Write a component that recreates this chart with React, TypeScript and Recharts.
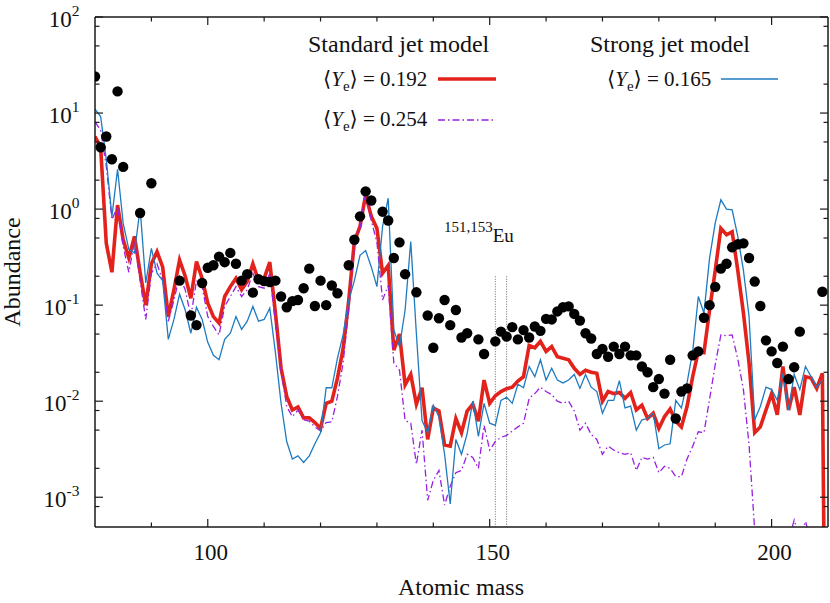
import React from 'react';
import { ComposedChart, Line, Scatter, XAxis, YAxis, ReferenceLine } from 'recharts';

// Atomic mass numbers (80 .. 210)
const massStart = 80;

// Standard jet model <Ye> = 0.192 (A = 80 ... 210)
const standardYe0192 = [
  5.7, 4.4, 0.44, 0.22, 1.1, 0.48, 0.31, 0.52, 0.22, 0.10,
  0.27, 0.36, 0.25, 0.076, 0.145, 0.295, 0.20, 0.118, 0.285, 0.19,
  0.105, 0.076, 0.065, 0.123, 0.156, 0.19, 0.145, 0.176, 0.27, 0.18,
  0.19, 0.28, 0.083, 0.022, 0.0112, 0.0081, 0.0087, 0.0067, 0.0067, 0.006,
  0.0052, 0.0095, 0.010, 0.0174, 0.035, 0.112, 0.46, 0.66, 1.41, 0.84,
  0.63, 0.215, 0.26, 0.034, 0.05, 0.0148, 0.019, 0.0093, 0.0138, 0.004,
  0.0085, 0.0079, 0.0035, 0.0034, 0.0066, 0.0047, 0.0079, 0.0093, 0.0062, 0.0166,
  0.0095, 0.0114, 0.0126, 0.0135, 0.014, 0.0162, 0.018, 0.038, 0.036, 0.042,
  0.033, 0.037, 0.029, 0.028, 0.027, 0.022, 0.019, 0.021, 0.02, 0.0195,
  0.010, 0.0126, 0.012, 0.0123, 0.0107, 0.0123, 0.0081, 0.0091, 0.0066, 0.0075,
  0.0052, 0.0069, 0.0083, 0.0062, 0.0054, 0.0088, 0.018, 0.033, 0.032, 0.089,
  0.23, 0.63, 0.54, 0.58, 0.23, 0.083, 0.025, 0.0047, 0.0054, 0.0081,
  0.012, 0.0072, 0.023, 0.0081, 0.014, 0.0072, 0.018, 0.0174, 0.0136, 0.0195,
  1e-8,
];

// Standard jet model <Ye> = 0.254 (A = 80 ... 209)
const standardYe0254 = [
  8.1, 6.6, 2.8, 0.78, 1.06, 0.41, 0.22, 0.46, 0.18, 0.071,
  0.215, 0.27, 0.18, 0.068, 0.113, 0.20, 0.145, 0.076, 0.18, 0.156,
  0.076, 0.06, 0.049, 0.097, 0.123, 0.156, 0.123, 0.145, 0.215, 0.156,
  0.15, 0.215, 0.065, 0.021, 0.0088, 0.0069, 0.0081, 0.0064, 0.0062, 0.0054,
  0.0049, 0.006, 0.0061, 0.0112, 0.025, 0.089, 0.43, 0.63, 1.48, 0.76,
  0.45, 0.113, 0.16, 0.025, 0.021, 0.0063, 0.0059, 0.0022, 0.005, 0.00093,
  0.0015, 0.0019, 0.00083, 0.0013, 0.0018, 0.0019, 0.0028, 0.0026, 0.002, 0.0056,
  0.0031, 0.0038, 0.0042, 0.0044, 0.0049, 0.0054, 0.0059, 0.0107, 0.012, 0.014,
  0.0126, 0.0117, 0.01, 0.0095, 0.01, 0.0079, 0.005, 0.0059, 0.0045, 0.004,
  0.0028, 0.0034, 0.0031, 0.0029, 0.0028, 0.0029, 0.0019, 0.0026, 0.0025, 0.0026,
  0.0018, 0.0021, 0.002, 0.00164, 0.00164, 0.0025, 0.0034, 0.0048, 0.0047, 0.0105,
  0.024, 0.049, 0.048, 0.049, 0.0275, 0.0132, 0.0035, 0.00045, 0.0002, 0.00016,
  0.0002, 0.00032, 0.00035, 0.00035, 0.00058, 0.00038, 0.00056, 0.00035, 0.00025, 0.0002,
];

// Strong jet model <Ye> = 0.165 (A = 80 ... 209)
const strongYe0165 = [
  11, 9.2, 3.3, 0.84, 2.6, 0.71, 0.38, 0.35, 1.02, 0.17,
  0.39, 0.215, 0.18, 0.044, 0.071, 0.13, 0.089, 0.051, 0.095, 0.071,
  0.041, 0.03, 0.027, 0.044, 0.051, 0.076, 0.056, 0.068, 0.097, 0.068,
  0.071, 0.093, 0.032, 0.0095, 0.0038, 0.0025, 0.0027, 0.0023, 0.0027, 0.0036,
  0.0047, 0.0138, 0.0138, 0.028, 0.049, 0.112, 0.18, 0.33, 0.37, 0.25,
  0.156, 0.66, 1.3, 0.055, 0.037, 0.089, 0.46, 0.05, 0.0063, 0.0047,
  0.0091, 0.0069, 0.0028, 0.00085, 0.004, 0.0028, 0.0046, 0.01, 0.0043, 0.0095,
  0.0059, 0.0056, 0.0102, 0.011, 0.0095, 0.015, 0.0138, 0.023, 0.018, 0.027,
  0.0166, 0.022, 0.0166, 0.0155, 0.0166, 0.019, 0.0136, 0.019, 0.014, 0.0126,
  0.0075, 0.0102, 0.0102, 0.0164, 0.0085, 0.0089, 0.005, 0.0064, 0.0066, 0.0075,
  0.0032, 0.0035, 0.0036, 0.0102, 0.0085, 0.0155, 0.033, 0.123, 0.083, 0.31,
  0.72, 1.25, 1.0, 0.98, 0.52, 0.23, 0.076, 0.0064, 0.0088, 0.014,
  0.0132, 0.0102, 0.0195, 0.0081, 0.019, 0.0132, 0.023, 0.018, 0.014, 0.0166,
];

// Solar r-process abundances [A, abundance]
const solarR: [number, number][] = [
  [80, 24], [81, 4.4], [82, 5.7], [83, 3.3], [84, 16.8], [85, 2.75], [88, 0.91], [90, 1.86],
  [95, 0.18], [97, 0.078], [98, 0.062], [99, 0.17], [100, 0.245], [101, 0.26], [102, 0.32],
  [103, 0.28], [104, 0.35], [105, 0.27], [106, 0.18], [107, 0.21], [108, 0.135], [109, 0.186],
  [110, 0.178], [111, 0.174], [112, 0.18], [113, 0.123], [114, 0.095], [115, 0.11], [116, 0.113],
  [117, 0.15], [118, 0.24], [119, 0.098], [120, 0.18], [121, 0.10], [122, 0.16], [123, 0.133],
  [125, 0.26], [126, 0.48], [127, 0.84], [128, 1.53], [129, 1.23], [131, 0.94], [132, 0.76],
  [133, 0.31], [134, 0.45], [135, 0.21], [137, 0.136], [139, 0.078], [140, 0.036], [141, 0.073],
  [142, 0.113], [143, 0.062], [144, 0.089], [145, 0.046], [146, 0.051], [148, 0.044], [149, 0.031],
  [151, 0.042], [152, 0.053], [153, 0.047], [154, 0.059], [155, 0.044], [156, 0.055], [157, 0.046],
  [158, 0.06], [159, 0.054], [160, 0.072], [161, 0.071], [162, 0.086], [163, 0.095], [164, 0.097],
  [165, 0.081], [166, 0.069], [167, 0.051], [168, 0.045], [169, 0.031], [170, 0.035], [171, 0.029],
  [172, 0.037], [173, 0.031], [174, 0.037], [175, 0.030], [176, 0.030], [177, 0.023], [178, 0.020],
  [179, 0.014], [180, 0.017], [181, 0.012], [182, 0.027], [183, 0.0066], [184, 0.0126], [185, 0.0136],
  [186, 0.030], [187, 0.033], [188, 0.074], [189, 0.10], [190, 0.155], [191, 0.24], [192, 0.27],
  [193, 0.40], [194, 0.43], [195, 0.44], [196, 0.31], [197, 0.176], [198, 0.098], [199, 0.043],
  [200, 0.033], [201, 0.025], [202, 0.037], [203, 0.017], [204, 0.0226], [205, 0.053], [209, 0.138],
];

const xTicks = [90, 100, 110, 120, 130, 140, 150, 160, 170, 180, 190, 200];
const xMajor = [100, 150, 200];
const yTicks = [
  8e-4, 1e-3, 2e-3, 5e-3, 8e-3, 1e-2, 2e-2, 5e-2, 8e-2, 0.1, 0.2, 0.5, 0.8,
  1, 2, 5, 8, 10, 20, 50, 80, 100,
];
const euMasses = [151, 153];

const yMin = 4.9e-4;
const yMax = 100;
const serif = "'Liberation Serif', 'DejaVu Serif', 'Times New Roman', serif";
const axisColor = '#1a1a1a';
const RED = '#e3221b';
const PURPLE = '#9a1fe0';
const BLUE = '#1f7bc0';

const toSeries = (vals: number[]) => vals.map((v, i) => ({ A: massStart + i, v }));
const redData = toSeries(standardYe0192);
const purpleData = toSeries(standardYe0254);
const blueData = toSeries(strongYe0165);
const solarData = solarR.map(([A, v]) => ({ A, v }));

const isMajorY = (v: number) => Math.abs(Math.log10(v) - Math.round(Math.log10(v))) < 1e-6;

const LeftTick = (props: any) => {
  const { x, y, payload } = props;
  const v = payload.value;
  const major = isMajorY(v);
  return (
    <g>
      <line x1={x} x2={x + (major ? 8 : 4.5)} y1={y} y2={y} stroke={axisColor} strokeWidth={1.2} />
      {major && (
        <text x={x - 15.5} y={y + 10} textAnchor="end" fontFamily={serif} fontSize={23} fill="#111">
          10<tspan dy={-11} fontSize={15.5}>{String(Math.round(Math.log10(v)))}</tspan>
        </text>
      )}
    </g>
  );
};

const RightTick = (props: any) => {
  const { x, y, payload } = props;
  const major = isMajorY(payload.value);
  return <line x1={x - (major ? 8 : 4.5)} x2={x} y1={y} y2={y} stroke={axisColor} strokeWidth={1.2} />;
};

const BottomTick = (props: any) => {
  const { x, y, payload } = props;
  const major = xMajor.includes(payload.value);
  return (
    <g>
      <line x1={x} x2={x} y1={y - (major ? 8 : 4.5)} y2={y} stroke={axisColor} strokeWidth={1.2} />
      {major && (
        <text x={x + 3} y={y + 33} textAnchor="middle" fontFamily={serif} fontSize={23} fill="#111">
          {payload.value}
        </text>
      )}
    </g>
  );
};

const TopTick = (props: any) => {
  const { x, y, payload } = props;
  const major = xMajor.includes(payload.value);
  return <line x1={x} x2={x} y1={y} y2={y + (major ? 8 : 4.5)} stroke={axisColor} strokeWidth={1.2} />;
};

const DotShape = (props: any) => {
  const { cx, cy } = props;
  if (cx == null || cy == null) return null;
  return <circle cx={cx} cy={cy} r={5.2} fill="#000" />;
};

const YeLabel = ({ x, y, value }: { x: number; y: number; value: string }) => (
  <text x={x} y={y} fontFamily={serif} fontSize={21} fill="#111">
    ⟨<tspan fontStyle="italic">Y</tspan>
    <tspan dy={5} fontSize={15}>e</tspan>
    <tspan dy={-5}>⟩ = {value}</tspan>
  </text>
);

export default function App() {
  const axisLine = { stroke: axisColor, strokeWidth: 1.5 };
  return (
    <div style={{ position: 'absolute', left: 0, top: 0, width: 830, height: 603, background: '#fff' }}>
      <ComposedChart width={830} height={603} margin={{ top: 0, right: 0, bottom: 0, left: 0 }}>
        <XAxis
          xAxisId="b"
          type="number"
          dataKey="A"
          domain={[80, 210]}
          ticks={xTicks}
          interval={0}
          allowDataOverflow
          height={76}
          tickSize={0}
          tickMargin={0}
          tickLine={false}
          axisLine={axisLine}
          tick={BottomTick}
        />
        <XAxis
          xAxisId="t"
          orientation="top"
          type="number"
          dataKey="A"
          domain={[80, 210]}
          ticks={xTicks}
          interval={0}
          allowDataOverflow
          height={17}
          tickSize={0}
          tickMargin={0}
          tickLine={false}
          axisLine={axisLine}
          tick={TopTick}
        />
        <YAxis
          yAxisId="l"
          type="number"
          scale="log"
          dataKey="v"
          domain={[yMin, yMax]}
          ticks={yTicks}
          interval={0}
          allowDataOverflow
          width={95}
          tickSize={0}
          tickMargin={0}
          tickLine={false}
          axisLine={axisLine}
          tick={LeftTick}
        />
        <YAxis
          yAxisId="r"
          orientation="right"
          type="number"
          scale="log"
          dataKey="v"
          domain={[yMin, yMax]}
          ticks={yTicks}
          interval={0}
          allowDataOverflow
          width={2}
          tickSize={0}
          tickMargin={0}
          tickLine={false}
          axisLine={axisLine}
          tick={RightTick}
        />
        {euMasses.map((m) => (
          <ReferenceLine
            key={m}
            xAxisId="b"
            yAxisId="l"
            segment={[{ x: m, y: 0.2 }, { x: m, y: yMin }]}
            stroke="#444"
            strokeWidth={0.8}
            strokeDasharray="1 1.5"
          />
        ))}
        <Line
          xAxisId="b"
          yAxisId="l"
          data={redData}
          dataKey="v"
          type="linear"
          stroke={RED}
          strokeWidth={3.6}
          dot={false}
          isAnimationActive={false}
        />
        <Line
          xAxisId="b"
          yAxisId="l"
          data={purpleData}
          dataKey="v"
          type="linear"
          stroke={PURPLE}
          strokeWidth={1.3}
          strokeDasharray="7 3 1.5 3"
          dot={false}
          isAnimationActive={false}
        />
        <Line
          xAxisId="b"
          yAxisId="l"
          data={blueData}
          dataKey="v"
          type="linear"
          stroke={BLUE}
          strokeWidth={1.3}
          dot={false}
          isAnimationActive={false}
        />
        <Scatter
          xAxisId="b"
          yAxisId="l"
          data={solarData}
          dataKey="v"
          fill="#000"
          shape={DotShape}
          isAnimationActive={false}
        />
      </ComposedChart>
      <svg
        width={830}
        height={603}
        style={{ position: 'absolute', left: 0, top: 0, pointerEvents: 'none' }}
      >
        <text x={308} y={52} fontFamily={serif} fontSize={24} fill="#111">Standard jet model</text>
        <YeLabel x={323} y={86} value="0.192" />
        <line x1={438} x2={496} y1={79} y2={79} stroke={RED} strokeWidth={3.5} />
        <YeLabel x={323} y={126} value="0.254" />
        <line x1={438} x2={494} y1={120} y2={120} stroke={PURPLE} strokeWidth={1.3} strokeDasharray="7 3 1.5 3" />
        <text x={590} y={52} fontFamily={serif} fontSize={24} fill="#111">Strong jet model</text>
        <YeLabel x={607} y={86} value="0.165" />
        <line x1={721} x2={778} y1={79} y2={79} stroke={BLUE} strokeWidth={1.3} />
        <text x={444} y={232} fontFamily={serif} fontSize={15} fill="#111">
          151,153<tspan dy={10} fontSize={19}>Eu</tspan>
        </text>
        <text x={461} y={595} textAnchor="middle" fontFamily={serif} fontSize={24} fill="#111">Atomic mass</text>
        <text
          x={20}
          y={272}
          textAnchor="middle"
          fontFamily={serif}
          fontSize={24}
          fill="#111"
          transform="rotate(-90 20 272)"
        >
          Abundance
        </text>
      </svg>
    </div>
  );
}
